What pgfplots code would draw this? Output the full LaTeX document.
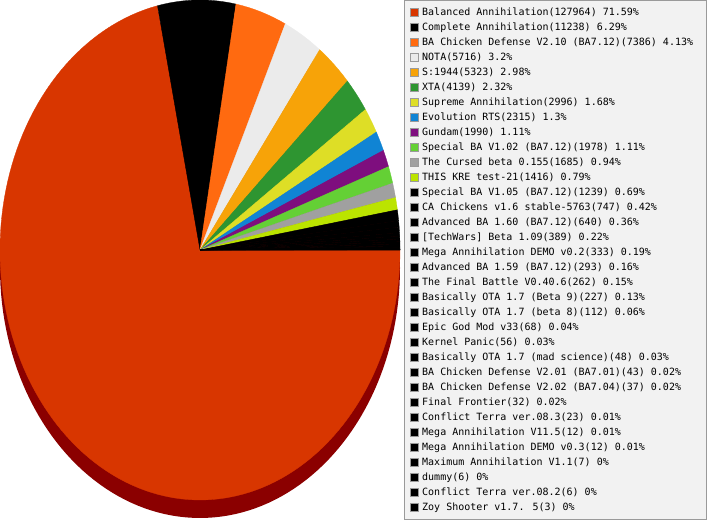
\documentclass[border=0pt]{standalone}
\usepackage{pgfplots}
\usepackage{pgfplotstable}
\pgfplotsset{compat=1.18}
\usepackage{fontspec}
\newfontfamily\legfont{DejaVu Sans Mono}

\definecolor{cBA}{HTML}{D83600}
\definecolor{cCA}{HTML}{000000}
\definecolor{cBAC}{HTML}{FF6A10}
\definecolor{cNOTA}{HTML}{EBEBEB}
\definecolor{cS}{HTML}{F7A308}
\definecolor{cXTA}{HTML}{2E9531}
\definecolor{cSup}{HTML}{DEDE26}
\definecolor{cEvo}{HTML}{1084D4}
\definecolor{cGun}{HTML}{7E0E7E}
\definecolor{cSpec}{HTML}{64D035}
\definecolor{cCur}{HTML}{A0A0A0}
\definecolor{cKRE}{HTML}{BBE400}
\definecolor{cBlk}{HTML}{000000}
\definecolor{legbg}{HTML}{F2F2F2}
\definecolor{legborder}{HTML}{9A9A9A}
\definecolor{pieshadow}{HTML}{8B0000}

\pgfplotstableread{
count color
127964 cBA
11238 cCA
7386 cBAC
5716 cNOTA
5323 cS
4139 cXTA
2996 cSup
2315 cEvo
1990 cGun
1978 cSpec
1685 cCur
1416 cKRE
1239 cBlk
747 cBlk
640 cBlk
389 cBlk
333 cBlk
293 cBlk
262 cBlk
227 cBlk
112 cBlk
68 cBlk
56 cBlk
48 cBlk
43 cBlk
37 cBlk
32 cBlk
23 cBlk
12 cBlk
12 cBlk
7 cBlk
6 cBlk
6 cBlk
3 cBlk
}\piedata

\begin{document}
\begin{tikzpicture}
\pgfplotstablegetrowsof{\piedata}
\pgfmathtruncatemacro\lastrow{\pgfplotsretval-1}
\gdef\pietotal{0}
\pgfplotsforeachungrouped \i in {0,...,\lastrow}{%
  \pgfplotstablegetelem{\i}{count}\of\piedata
  \xdef\pietotal{\fpeval{\pietotal+\pgfplotsretval}}%
}
\begin{axis}[
  width=707bp, height=520bp, scale only axis,
  xmin=0, xmax=707, ymin=0, ymax=520,
  hide axis,
  legend cell align=left,
  legend style={at={(410.2/707,515.4/520)}, anchor=north west,
    draw=none, fill=none, inner sep=0pt, row sep=0pt, column sep=3bp,
    font=\legfont\fontsize{10bp}{15bp}\selectfont,
    nodes={inner sep=0pt, text height=11.15bp, text depth=3.85bp}},
  legend image code/.code={\draw[#1, draw=legborder, line width=0.8bp] (0bp,-4bp) rectangle (8bp,4bp);},
]
% legend box
\draw[fill=legbg, draw=legborder, line width=1bp] (axis cs:404,0.5) rectangle (axis cs:706.5,519.5);
% 3D shadow of the pie
\addplot[fill=pieshadow, draw=none, domain=0:360, samples=181, forget plot]
  ({200+200*cos(x)},{252+250*sin(x)}) -- cycle;
% slices, clockwise from 3 o'clock
\gdef\piecum{0}
\pgfplotsforeachungrouped \i in {0,...,\lastrow}{%
  \pgfplotstablegetelem{\i}{count}\of\piedata \let\cnt\pgfplotsretval
  \pgfplotstablegetelem{\i}{color}\of\piedata \let\col\pgfplotsretval
  \edef\sa{\fpeval{round(-360*\piecum/\pietotal,4)}}%
  \xdef\piecum{\fpeval{\piecum+\cnt}}%
  \edef\ea{\fpeval{round(-360*\piecum/\pietotal,4)}}%
  \edef\ns{\fpeval{max(2,ceil((\sa-\ea)/2)+1)}}%
  \edef\doit{\noexpand\addplot[fill=\col, draw=\col, line width=0.3bp, domain=\ea:\sa, samples=\ns]
    ({200+200*cos(x)},{270+250*sin(x)}) -- (axis cs:200,270) -- cycle;}%
  \doit
}
\legend{
Balanced Annihilation(127964) 71.59\%,
Complete Annihilation(11238) 6.29\%,
BA Chicken Defense V2.10 (BA7.12)(7386) 4.13\%,
NOTA(5716) 3.2\%,
S:1944(5323) 2.98\%,
XTA(4139) 2.32\%,
Supreme Annihilation(2996) 1.68\%,
Evolution RTS(2315) 1.3\%,
Gundam(1990) 1.11\%,
Special BA V1.02 (BA7.12)(1978) 1.11\%,
The Cursed beta 0.155(1685) 0.94\%,
THIS KRE test-21(1416) 0.79\%,
Special BA V1.05 (BA7.12)(1239) 0.69\%,
CA Chickens v1.6 stable-5763(747) 0.42\%,
Advanced BA 1.60 (BA7.12)(640) 0.36\%,
\relax{[}TechWars{]} Beta 1.09(389) 0.22\%,
Mega Annihilation DEMO v0.2(333) 0.19\%,
Advanced BA 1.59 (BA7.12)(293) 0.16\%,
The Final Battle V0.40.6(262) 0.15\%,
Basically OTA 1.7 (Beta 9)(227) 0.13\%,
Basically OTA 1.7 (beta 8)(112) 0.06\%,
Epic God Mod v33(68) 0.04\%,
Kernel Panic(56) 0.03\%,
Basically OTA 1.7 (mad science)(48) 0.03\%,
BA Chicken Defense V2.01 (BA7.01)(43) 0.02\%,
BA Chicken Defense V2.02 (BA7.04)(37) 0.02\%,
Final Frontier(32) 0.02\%,
Conflict Terra ver.08.3(23) 0.01\%,
Mega Annihilation V11.5(12) 0.01\%,
Mega Annihilation DEMO v0.3(12) 0.01\%,
Maximum Annihilation V1.1(7) 0\%,
dummy(6) 0\%,
Conflict Terra ver.08.2(6) 0\%,
Zoy Shooter v1.7. 5(3) 0\%}
\end{axis}
\end{tikzpicture}
\end{document}
